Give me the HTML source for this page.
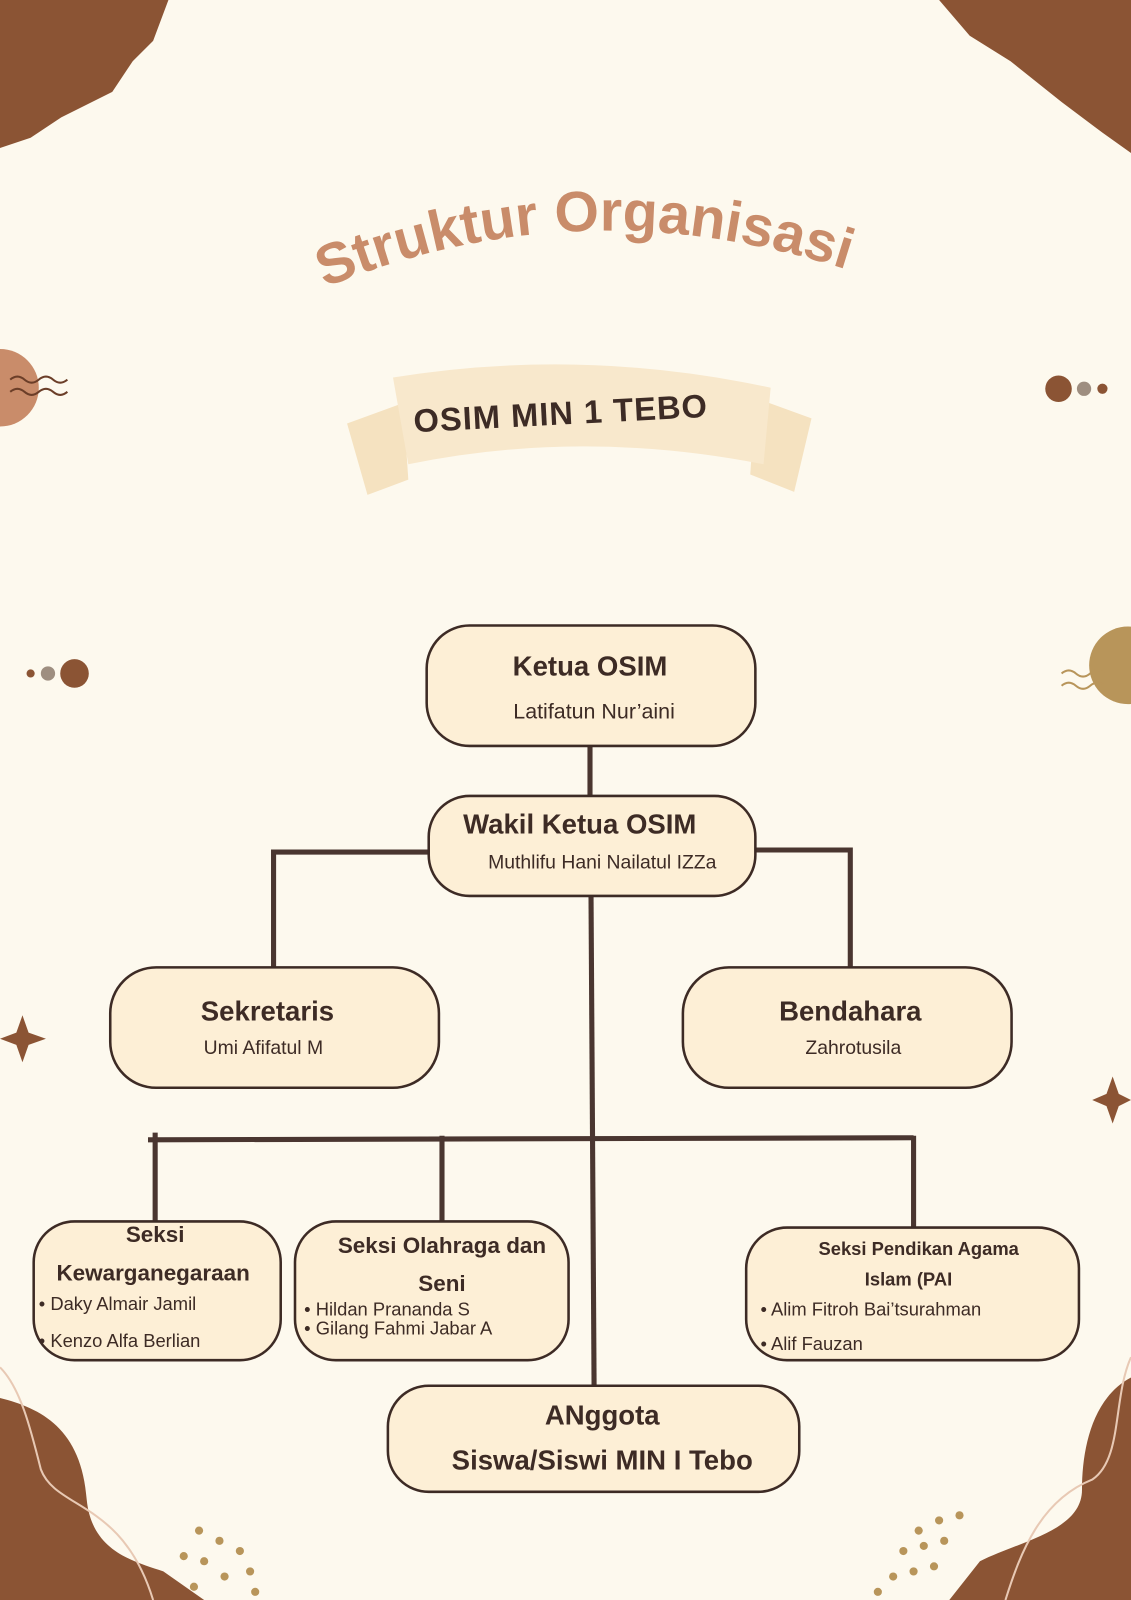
<!DOCTYPE html>
<html><head><meta charset="utf-8"><style>
html,body{margin:0;padding:0;background:#fdf9ee;}
svg{display:block}
text{font-family:"Liberation Sans",sans-serif;fill:#3d2b25;}
.b{font-weight:bold}
</style></head><body>
<svg width="1131" height="1600" viewBox="0 0 1108 1568" preserveAspectRatio="none" xmlns="http://www.w3.org/2000/svg">
<rect width="1108" height="1568" fill="#fdf9ee"/>
<path d="M0,0 L165,0 L150,40 L130,60 L110,90 L60,115 L30,135 L0,145 Z" fill="#8b5434"/>
<path d="M920,0 L1108,0 L1108,150 L1080,130 L1040,100 L990,60 L950,35 Z" fill="#8b5434"/>
<path d="M0,1370 C40,1380 80,1400 85,1470 C90,1520 130,1530 160,1540 L200,1568 L0,1568 Z" fill="#8b5434"/>
<path d="M0,1340 C20,1360 30,1400 40,1440 C55,1480 120,1470 150,1568" fill="none" stroke="#e8c9b4" stroke-width="2"/>
<path d="M1108,1350 C1070,1370 1060,1420 1060,1460 C1060,1500 1000,1510 960,1530 L930,1568 L1108,1568 Z" fill="#8b5434"/>
<path d="M1108,1330 C1090,1370 1100,1430 1070,1450 C1020,1470 1000,1520 985,1568" fill="none" stroke="#e8c9b4" stroke-width="2"/>
<g fill="#b8955a">
<circle cx="195" cy="1500" r="4"/><circle cx="215" cy="1510" r="4"/><circle cx="235" cy="1520" r="4"/><circle cx="180" cy="1525" r="4"/><circle cx="200" cy="1530" r="4"/><circle cx="220" cy="1545" r="4"/><circle cx="245" cy="1540" r="4"/><circle cx="190" cy="1555" r="4"/><circle cx="250" cy="1560" r="4"/>
<circle cx="900" cy="1500" r="4"/><circle cx="920" cy="1490" r="4"/><circle cx="940" cy="1485" r="4"/><circle cx="885" cy="1520" r="4"/><circle cx="905" cy="1515" r="4"/><circle cx="925" cy="1510" r="4"/><circle cx="875" cy="1545" r="4"/><circle cx="895" cy="1540" r="4"/><circle cx="915" cy="1535" r="4"/><circle cx="860" cy="1560" r="4"/>
</g>
<circle cx="0" cy="380" r="38" fill="#c98c6a"/>
<path d="M10,372 q7,-6 14,0 t14,0 t14,0 t14,0 M10,384 q7,-6 14,0 t14,0 t14,0 t14,0" fill="none" stroke="#6b3e28" stroke-width="2"/>
<circle cx="1037" cy="381" r="13" fill="#8b5434"/><circle cx="1062" cy="381" r="7" fill="#9e8e80"/><circle cx="1080" cy="381" r="5" fill="#8b5434"/>
<circle cx="30" cy="660" r="4" fill="#8b5434"/><circle cx="47" cy="660" r="7" fill="#9e8e80"/><circle cx="73" cy="660" r="14" fill="#8b5434"/>
<circle cx="1105" cy="652" r="38" fill="#b8955a"/>
<path d="M1040,660 q7,-6 14,0 t14,0 t14,0 M1040,672 q7,-6 14,0 t14,0 t14,0" fill="none" stroke="#b8955a" stroke-width="2"/>
<path d="M22,995 L28,1012 L45,1018 L28,1024 L22,1041 L16,1024 L0,1018 L16,1012 Z" fill="#8b5434"/>
<path d="M1090,1055 L1096,1072 L1108,1078 L1096,1084 L1090,1101 L1084,1084 L1070,1078 L1084,1072 Z" fill="#8b5434"/>
<defs><path id="arc" d="M318,282 Q590,170 880,282"/></defs>
<text class="b" font-size="56" style="fill:#c98c6a"><textPath href="#arc">Struktur Organisasi</textPath></text>
<polygon points="340,415 395,395 400,470 360,485" fill="#f5e2c0"/>
<polygon points="795,410 740,390 735,465 778,482" fill="#f5e2c0"/>
<path d="M385,370 Q570,340 755,380 L748,455 Q570,420 400,455 Z" fill="#f8e8cc"/>
<text class="b" font-size="32" x="405" y="415" transform="rotate(-3 570 405)" letter-spacing="1">OSIM MIN 1 TEBO</text>
<g stroke="#4a3630" stroke-width="5" fill="none">
<line x1="578" y1="731" x2="578" y2="780"/>
<polyline points="420,835 268,835 268,948"/>
<polyline points="740,833 833,833 833,948"/>
<line x1="579" y1="878" x2="582" y2="1358"/>
<line x1="145" y1="1117" x2="895" y2="1115"/>
<line x1="152" y1="1110" x2="152" y2="1197"/>
<line x1="433" y1="1113" x2="433" y2="1197"/>
<line x1="895" y1="1113" x2="895" y2="1203"/>
</g>
<g fill="#fdefd6" stroke="#3d2b25" stroke-width="2.5">
<rect x="418" y="613" width="322" height="118" rx="42"/>
<rect x="420" y="780" width="320" height="98" rx="40"/>
<rect x="108" y="948" width="322" height="118" rx="45"/>
<rect x="669" y="948" width="322" height="118" rx="45"/>
<rect x="33" y="1197" width="242" height="136" rx="40"/>
<rect x="289" y="1197" width="268" height="136" rx="40"/>
<rect x="731" y="1203" width="326" height="130" rx="40"/>
<rect x="380" y="1358" width="403" height="104" rx="40"/>
</g>
<g text-anchor="middle">
<text class="b" font-size="27" x="578" y="662">Ketua OSIM</text>
<text font-size="21" x="582" y="704">Latifatun Nur’aini</text>
<text class="b" font-size="27" x="568" y="817">Wakil Ketua OSIM</text>
<text font-size="19" x="590" y="851">Muthlifu Hani Nailatul IZZa</text>
<text class="b" font-size="27" x="262" y="1000">Sekretaris</text>
<text font-size="19" x="258" y="1033">Umi Afifatul M</text>
<text class="b" font-size="27" x="833" y="1000">Bendahara</text>
<text font-size="19" x="836" y="1033">Zahrotusila</text>
<text class="b" font-size="22" x="152" y="1217">Seksi</text>
<text class="b" font-size="22" x="150" y="1255">Kewarganegaraan</text>
<text class="b" font-size="22" x="433" y="1228">Seksi Olahraga dan</text>
<text class="b" font-size="22" x="433" y="1265">Seni</text>
<text class="b" font-size="18" x="900" y="1230">Seksi Pendikan Agama</text>
<text class="b" font-size="18" x="890" y="1260">Islam (PAI</text>
<text class="b" font-size="27" x="590" y="1396">ANggota</text>
<text class="b" font-size="27" x="590" y="1440">Siswa/Siswi MIN I Tebo</text>
</g>
<g font-size="18">
<text x="38" y="1284">•  Daky Almair Jamil</text>
<text x="38" y="1320">•  Kenzo Alfa Berlian</text>
<text x="298" y="1289">•  Hildan Prananda S</text>
<text x="298" y="1308">•  Gilang Fahmi Jabar A</text>
<text x="745" y="1289">•  Alim Fitroh Bai’tsurahman</text>
<text x="745" y="1323">•  Alif Fauzan</text>
</g>
</svg>
</body></html>
